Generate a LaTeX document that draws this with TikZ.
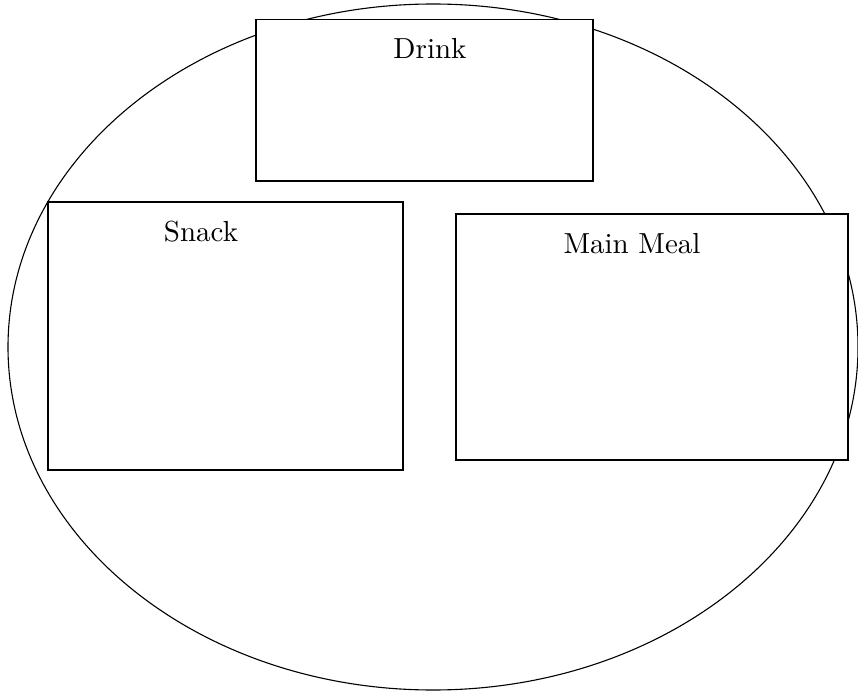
\documentclass[tikz,border=0pt]{standalone}
\usepackage{fontspec}
\setmainfont{lmroman10-regular.otf}
\usetikzlibrary{shapes.geometric}
\begin{document}
\begin{tikzpicture}[x=1pt,y=-1pt,
  plate/.style={draw=black,line width=1.1pt,ellipse,inner sep=0pt},
  box/.style={draw=black,fill=white,line width=1.5pt,inner sep=0pt},
  lbl/.style={font=\fontsize{29}{32}\selectfont,anchor=base,inner sep=0pt}]
\useasboundingbox (0,0) rectangle (858,692);
\node[plate,minimum width=850pt,minimum height=686pt] (plate) at (433,347) {};
\node[box,minimum width=337pt,minimum height=161.5pt] (drinkbox) at (424.5,100.25) {};
\node[box,minimum width=355pt,minimum height=268pt] (snackbox) at (225.5,336) {};
\node[box,minimum width=392pt,minimum height=246pt] (mealbox) at (652,337) {};
\node[lbl] (drink) at (430,59) {Drink};
\node[lbl] (snack) at (201,242) {Snack};
\node[lbl] (meal) at (632,254) {Main Meal};
\end{tikzpicture}
\end{document}
